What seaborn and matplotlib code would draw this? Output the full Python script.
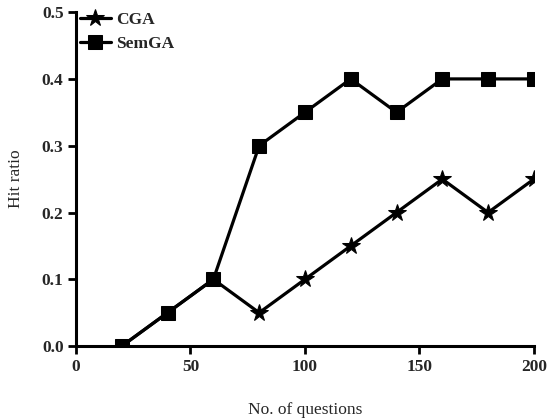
import matplotlib
matplotlib.use("Agg")
import matplotlib.pyplot as plt
import seaborn as sns
import pandas as pd

questions = [20, 40, 60, 80, 100, 120, 140, 160, 180, 200]
cga = [0.0, 0.05, 0.10, 0.05, 0.10, 0.15, 0.20, 0.25, 0.20, 0.25]
semga = [0.0, 0.05, 0.10, 0.30, 0.35, 0.40, 0.35, 0.40, 0.40, 0.40]
x_ticks = [0, 50, 100, 150, 200]
y_ticks = [0.0, 0.1, 0.2, 0.3, 0.4, 0.5]

sns.set_style("ticks")
plt.rcParams['font.family'] = ['Liberation Serif', 'DejaVu Serif']

fig = plt.figure(figsize=(5.47, 4.18), dpi=100)
ax = fig.add_axes([0.139, 0.172, 0.837, 0.799])

df_c = pd.DataFrame({"x": questions, "y": cga})
df_s = pd.DataFrame({"x": questions, "y": semga})

sns.lineplot(data=df_c, x="x", y="y", ax=ax, color="black", lw=2.3,
             marker="*", markersize=13, markeredgecolor="black", label="CGA",
             markevery=list(range(3, len(questions))))
sns.lineplot(data=df_s, x="x", y="y", ax=ax, color="black", lw=2.3,
             marker="s", markersize=9.5, markeredgecolor="black", label="SemGA")

ax.set_xlim(0, 200)
ax.set_ylim(0, 0.5)
ax.set_xticks(x_ticks)
ax.set_yticks(y_ticks)
ax.set_xticklabels([str(t) for t in x_ticks], fontsize=12.5, fontweight="bold")
ax.set_yticklabels([f"{t:.1f}" for t in y_ticks], fontsize=12.5, fontweight="bold")
ax.set_xlabel("No. of questions", fontsize=12.5, labelpad=20)
ax.set_ylabel("Hit ratio", fontsize=12.5, labelpad=13)

for s in ["top", "right"]:
    ax.spines[s].set_visible(False)
for s in ["left", "bottom"]:
    ax.spines[s].set_linewidth(2.2)
    ax.spines[s].set_color("black")
ax.tick_params(axis="both", width=2, length=6, color="black", direction="out", pad=3)

leg = ax.legend(loc="upper left", bbox_to_anchor=(0.008, 1.0), frameon=False,
                fontsize=12.5, handlelength=1.8, handletextpad=0.3, labelspacing=0.45,
                borderaxespad=0.0, borderpad=0.0)
for t in leg.get_texts():
    t.set_fontweight("bold")

fig.savefig("out.png", dpi=100)
